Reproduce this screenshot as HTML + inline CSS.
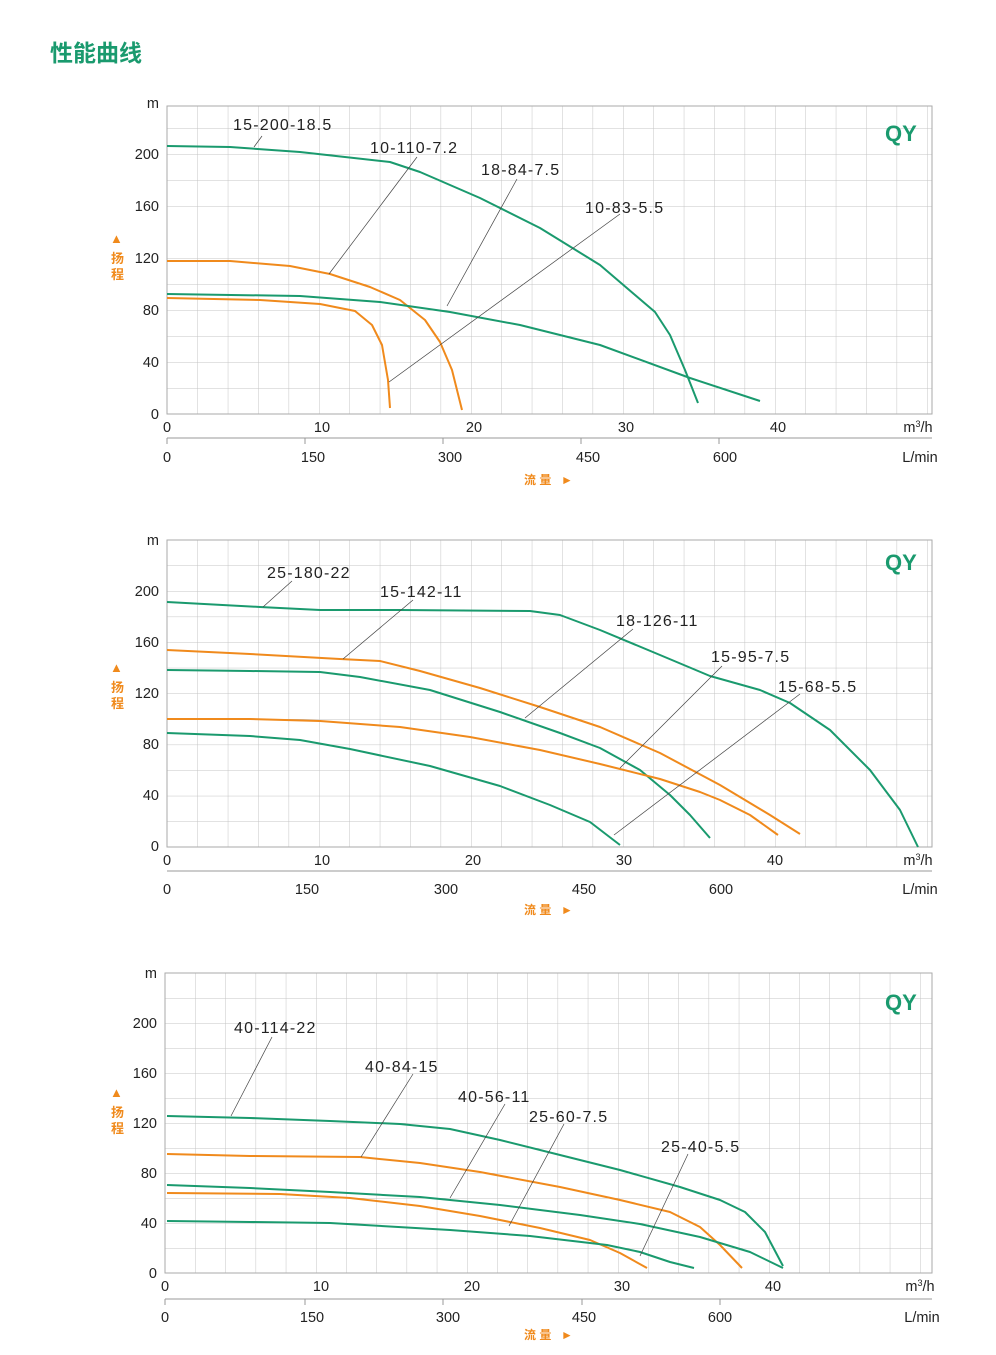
<!DOCTYPE html>
<html><head><meta charset="utf-8"><style>
body{margin:0;background:#fff;}
svg{display:block;font-family:"Liberation Sans","Noto Sans CJK SC",sans-serif;}
.t{font-size:14.5px;fill:#222;}
.l{font-size:16px;fill:#222;letter-spacing:1.2px;}
.g{fill:none;stroke:#1a9a6e;stroke-width:2;stroke-linejoin:round;}
.o{fill:none;stroke:#f08a1c;stroke-width:2;stroke-linejoin:round;}
.ld{stroke:#444;stroke-width:0.7;}
.ax{stroke:#999;stroke-width:1;}
</style></head><body>
<svg width="996" height="1355" viewBox="0 0 996 1355">
<defs>
<pattern id="p1" patternUnits="userSpaceOnUse" x="167" y="414" width="30.4" height="26"><path d="M0 0H30.4M0 0V26" stroke="#c4c4c4" stroke-width="1" fill="none"/></pattern>
<pattern id="p2" patternUnits="userSpaceOnUse" x="167" y="847" width="30.4" height="25.6"><path d="M0 0H30.4M0 0V25.6" stroke="#c4c4c4" stroke-width="1" fill="none"/></pattern>
<pattern id="p3" patternUnits="userSpaceOnUse" x="165" y="1273" width="30.2" height="25"><path d="M0 0H30.2M0 0V25" stroke="#c4c4c4" stroke-width="1" fill="none"/></pattern>
</defs>
<text x="50" y="61" style="font-size:23px;font-weight:bold;fill:#1a9a6e">性能曲线</text>

<!-- Chart 1 -->
<rect x="167" y="106" width="765" height="308" fill="url(#p1)"/>
<rect x="167" y="106" width="765" height="308" fill="none" stroke="#aaa"/>
<g class="t" text-anchor="end">
<text x="159" y="108">m</text><text x="159" y="159">200</text><text x="159" y="211">160</text><text x="159" y="263">120</text><text x="159" y="315">80</text><text x="159" y="367">40</text><text x="159" y="419">0</text></g>
<text x="110" y="243" style="font-size:13px;fill:#f08a1c">▲</text>
<text x="111" y="263" style="font-size:13px;font-weight:bold;fill:#f08a1c">扬</text>
<text x="111" y="279" style="font-size:13px;font-weight:bold;fill:#f08a1c">程</text>
<g class="t" text-anchor="middle"><text x="167" y="432">0</text><text x="322" y="432">10</text><text x="474" y="432">20</text><text x="626" y="432">30</text><text x="778" y="432">40</text>
<text x="167" y="462">0</text><text x="313" y="462">150</text><text x="450" y="462">300</text><text x="588" y="462">450</text><text x="725" y="462">600</text></g>
<text x="918" y="432" class="t" text-anchor="middle">m<tspan dy="-5" font-size="9">3</tspan><tspan dy="5">/h</tspan></text>
<text x="920" y="462" class="t" text-anchor="middle">L/min</text>
<line x1="167" y1="438" x2="932" y2="438" class="ax"/>
<g class="ax"><line x1="167" y1="438" x2="167" y2="444"/><line x1="305" y1="438" x2="305" y2="444"/><line x1="443" y1="438" x2="443" y2="444"/><line x1="581" y1="438" x2="581" y2="444"/><line x1="719" y1="438" x2="719" y2="444"/></g>
<text x="524" y="484" style="font-size:12px;font-weight:bold;fill:#f08a1c">流 量</text><text x="561" y="484" style="font-size:12px;fill:#f08a1c">►</text>
<text x="885" y="141" style="font-size:22px;font-weight:bold;fill:#1a9a6e">QY</text>
<polyline class="g" points="167,146 230,147 300,152 390,162 420,172 480,198 540,228 600,265 655,312 670,335 685,370 698,403"/>
<polyline class="o" points="167,261 230,261 290,266 330,274 370,287 400,300 425,320 440,342 452,370 462,410"/>
<polyline class="g" points="167,294 300,296 380,302 450,312 520,325 600,345 690,378 760,401"/>
<polyline class="o" points="167,298 260,300 320,304 355,311 372,325 382,345 388,380 390,408"/>
<line class="ld" x1="262" y1="136" x2="254" y2="147"/><line class="ld" x1="417" y1="157" x2="329" y2="274"/><line class="ld" x1="517" y1="179" x2="447" y2="306"/><line class="ld" x1="620" y1="214" x2="389" y2="382"/>
<g class="l"><text x="233" y="130">15-200-18.5</text><text x="370" y="153">10-110-7.2</text><text x="481" y="175">18-84-7.5</text><text x="585" y="213">10-83-5.5</text></g>

<!-- Chart 2 -->
<rect x="167" y="540" width="765" height="307" fill="url(#p2)"/>
<rect x="167" y="540" width="765" height="307" fill="none" stroke="#aaa"/>
<g class="t" text-anchor="end">
<text x="159" y="545">m</text><text x="159" y="596">200</text><text x="159" y="647">160</text><text x="159" y="698">120</text><text x="159" y="749">80</text><text x="159" y="800">40</text><text x="159" y="851">0</text></g>
<text x="110" y="672" style="font-size:13px;fill:#f08a1c">▲</text>
<text x="111" y="692" style="font-size:13px;font-weight:bold;fill:#f08a1c">扬</text>
<text x="111" y="708" style="font-size:13px;font-weight:bold;fill:#f08a1c">程</text>
<g class="t" text-anchor="middle"><text x="167" y="865">0</text><text x="322" y="865">10</text><text x="473" y="865">20</text><text x="624" y="865">30</text><text x="775" y="865">40</text>
<text x="167" y="894">0</text><text x="307" y="894">150</text><text x="446" y="894">300</text><text x="584" y="894">450</text><text x="721" y="894">600</text></g>
<text x="918" y="865" class="t" text-anchor="middle">m<tspan dy="-5" font-size="9">3</tspan><tspan dy="5">/h</tspan></text>
<text x="920" y="894" class="t" text-anchor="middle">L/min</text>
<line x1="167" y1="871" x2="932" y2="871" class="ax"/>
<text x="524" y="914" style="font-size:12px;font-weight:bold;fill:#f08a1c">流 量</text><text x="561" y="914" style="font-size:12px;fill:#f08a1c">►</text>
<text x="885" y="570" style="font-size:22px;font-weight:bold;fill:#1a9a6e">QY</text>
<polyline class="g" points="167,602 260,607 320,610 400,610 530,611 560,615 600,630 660,655 710,676 760,690 790,703 830,730 870,770 900,810 918,847"/>
<polyline class="o" points="167,650 250,654 340,659 380,661 420,671 480,688 540,707 600,727 660,753 720,785 770,815 800,834"/>
<polyline class="g" points="167,670 250,671 320,672 360,677 430,690 500,712 560,733 600,748 640,770 670,795 690,815 710,838"/>
<polyline class="o" points="167,719 250,719 320,721 400,727 470,737 540,750 600,764 660,779 700,792 720,800 750,815 778,835"/>
<polyline class="g" points="167,733 250,736 300,740 350,749 430,766 500,786 550,805 590,822 620,845"/>
<line class="ld" x1="292" y1="581" x2="263" y2="607"/><line class="ld" x1="413" y1="600" x2="343" y2="659"/><line class="ld" x1="633" y1="629" x2="525" y2="718"/><line class="ld" x1="722" y1="666" x2="620" y2="768"/><line class="ld" x1="800" y1="694" x2="614" y2="835"/>
<g class="l"><text x="267" y="578">25-180-22</text><text x="380" y="597">15-142-11</text><text x="616" y="626">18-126-11</text><text x="711" y="662">15-95-7.5</text><text x="778" y="692">15-68-5.5</text></g>

<!-- Chart 3 -->
<rect x="165" y="973" width="767" height="300" fill="url(#p3)"/>
<rect x="165" y="973" width="767" height="300" fill="none" stroke="#aaa"/>
<g class="t" text-anchor="end">
<text x="157" y="978">m</text><text x="157" y="1028">200</text><text x="157" y="1078">160</text><text x="157" y="1128">120</text><text x="157" y="1178">80</text><text x="157" y="1228">40</text><text x="157" y="1278">0</text></g>
<text x="110" y="1097" style="font-size:13px;fill:#f08a1c">▲</text>
<text x="111" y="1117" style="font-size:13px;font-weight:bold;fill:#f08a1c">扬</text>
<text x="111" y="1133" style="font-size:13px;font-weight:bold;fill:#f08a1c">程</text>
<g class="t" text-anchor="middle"><text x="165" y="1291">0</text><text x="321" y="1291">10</text><text x="472" y="1291">20</text><text x="622" y="1291">30</text><text x="773" y="1291">40</text>
<text x="165" y="1322">0</text><text x="312" y="1322">150</text><text x="448" y="1322">300</text><text x="584" y="1322">450</text><text x="720" y="1322">600</text></g>
<text x="920" y="1291" class="t" text-anchor="middle">m<tspan dy="-5" font-size="9">3</tspan><tspan dy="5">/h</tspan></text>
<text x="922" y="1322" class="t" text-anchor="middle">L/min</text>
<line x1="165" y1="1299" x2="932" y2="1299" class="ax"/>
<g class="ax"><line x1="165" y1="1299" x2="165" y2="1305"/><line x1="305" y1="1299" x2="305" y2="1305"/><line x1="443" y1="1299" x2="443" y2="1305"/><line x1="582" y1="1299" x2="582" y2="1305"/><line x1="720" y1="1299" x2="720" y2="1305"/></g>
<text x="524" y="1339" style="font-size:12px;font-weight:bold;fill:#f08a1c">流 量</text><text x="561" y="1339" style="font-size:12px;fill:#f08a1c">►</text>
<text x="885" y="1010" style="font-size:22px;font-weight:bold;fill:#1a9a6e">QY</text>
<polyline class="g" points="167,1116 250,1118 330,1121 400,1124 450,1129 500,1140 560,1155 620,1170 680,1187 720,1200 745,1212 765,1232 783,1266"/>
<polyline class="o" points="167,1154 250,1156 360,1157 420,1163 480,1172 560,1187 620,1200 670,1212 700,1227 720,1245 742,1268"/>
<polyline class="g" points="167,1185 250,1188 330,1192 420,1197 500,1205 580,1215 640,1224 700,1237 750,1252 783,1268"/>
<polyline class="o" points="167,1193 280,1194 350,1198 420,1206 480,1216 540,1228 590,1240 620,1253 647,1268"/>
<polyline class="g" points="167,1221 250,1222 330,1223 450,1230 530,1236 607,1245 640,1252 670,1262 694,1268"/>
<line class="ld" x1="272" y1="1037" x2="231" y2="1116"/><line class="ld" x1="413" y1="1074" x2="361" y2="1157"/><line class="ld" x1="505" y1="1104" x2="450" y2="1198"/><line class="ld" x1="564" y1="1124" x2="509" y2="1226"/><line class="ld" x1="688" y1="1154" x2="640" y2="1256"/>
<g class="l"><text x="234" y="1033">40-114-22</text><text x="365" y="1072">40-84-15</text><text x="458" y="1102">40-56-11</text><text x="529" y="1122">25-60-7.5</text><text x="661" y="1152">25-40-5.5</text></g>
</svg>
</body></html>
